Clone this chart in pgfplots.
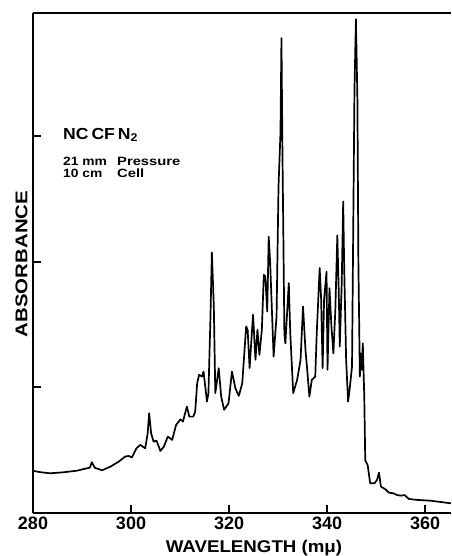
\documentclass[border=0pt]{standalone}
\usepackage{fontspec}
\setmainfont{Liberation Sans}
\usepackage{graphicx}
\usepackage{pgfplots}
\pgfplotsset{compat=1.18}

% absorbance trace
\pgfplotstableread{
x y
280.1 0.335
281.5 0.325
283.5 0.316
286.2 0.324
289.0 0.337
290.7 0.353
291.6 0.361
292.0 0.404
292.6 0.360
294.1 0.340
295.8 0.369
297.5 0.409
298.8 0.449
299.5 0.454
300.2 0.443
301.1 0.515
301.9 0.542
302.9 0.515
303.4 0.635
303.7 0.794
304.1 0.635
304.6 0.568
305.2 0.576
306.0 0.494
306.7 0.528
307.5 0.608
308.4 0.582
309.2 0.701
310.1 0.746
310.6 0.728
311.4 0.847
311.9 0.767
312.7 0.767
313.1 0.807
313.5 1.033
313.9 1.100
314.5 1.086
314.8 1.126
315.5 0.887
315.8 0.954
316.2 1.538
316.5 2.074
316.9 1.644
317.2 0.954
317.9 1.153
318.4 0.927
319.0 0.821
319.9 0.874
320.6 1.126
321.3 0.993
322.0 0.932
322.7 1.033
323.5 1.485
323.8 1.458
324.2 1.153
324.9 1.578
325.4 1.219
325.8 1.458
326.2 1.259
326.7 1.458
327.1 1.896
327.4 1.883
327.8 1.604
328.1 2.20
328.4 1.99
329.1 1.245
329.7 1.564
330.1 2.60
330.5 3.025
330.7 3.78
330.9 2.89
331.3 1.43
331.5 1.35
332.2 1.83
332.5 1.43
333.1 0.954
333.9 1.06
334.6 1.22
335.1 1.644
335.6 1.30
335.9 1.166
336.4 0.927
336.9 1.06
337.6 1.086
337.9 1.43
338.5 1.95
338.8 1.70
339.1 1.153
339.4 1.70
339.9 1.92
340.1 1.14
340.5 1.79
340.9 1.485
341.3 1.27
341.7 1.62
342.1 2.21
342.4 1.75
342.6 1.325
343.0 1.83
343.3 2.48
343.5 1.96
343.9 1.22
344.3 0.887
344.6 0.98
345.1 1.166
345.4 2.49
345.6 3.37
345.9 3.93
346.2 3.29
346.4 1.99
346.7 1.086
346.9 1.27
347.1 1.14
347.3 1.35
347.6 0.927
347.8 0.42
348.3 0.38
348.8 0.237
349.7 0.237
350.2 0.263
350.6 0.321
351.0 0.21
351.9 0.189
352.6 0.162
353.5 0.157
354.3 0.143
355.1 0.138
355.8 0.143
356.7 0.112
358.4 0.104
361.1 0.098
365.3 0.077
}\spectrum

\begin{document}
\begin{tikzpicture}
\path[use as bounding box] (0,0) rectangle (451pt,556pt);
\begin{axis}[
  at={(33pt,43pt)}, anchor=south west,
  scale only axis, width=418pt, height=500pt,
  xmin=280, xmax=365.3, ymin=0, ymax=3.98,
  axis x line*=box, axis y line*=left,
  axis line style={line width=2.4pt,-},
  xtick={280,300,...,360}, ytick={1,2,3}, yticklabels={},
  xtick pos=bottom, ytick pos=left, tick align=inside,
  major tick length=7.5pt,
  major tick style={line width=1.8pt,black},
  /pgf/number format/assume math mode=true,
  ticklabel style={font=\bfseries\fontsize{18}{18}\selectfont},
]
\addplot[black, line width=1.7pt, line join=round, no marks] table {\spectrum};
\end{axis}

% legend-like notes, placed in picture points (1pt = 1px of the reference)
\begin{scope}[every node/.style={anchor=west, inner sep=0pt}]
\node[font=\bfseries\fontsize{16}{16}\selectfont] at (63pt,421pt)
  {\scalebox{1.1}[1]{NC\,CF\,N\textsubscript{2}}};
\node[font=\bfseries\fontsize{12}{12}\selectfont] at (63pt,395pt) {\scalebox{1.15}[1]{21 mm}};
\node[font=\bfseries\fontsize{12}{12}\selectfont] at (117pt,395pt) {\scalebox{1.23}[1]{Pressure}};
\node[font=\bfseries\fontsize{12}{12}\selectfont] at (63pt,383pt) {\scalebox{1.15}[1]{10 cm}};
\node[font=\bfseries\fontsize{12}{12}\selectfont] at (117pt,383pt) {\scalebox{1.23}[1]{Cell}};
\end{scope}

\node[anchor=base, inner sep=0pt, font=\bfseries\fontsize{17}{17}\selectfont]
  at (254pt,3.5pt) {\scalebox{1.1}[1]{WAVELENGTH (mμ)}};
\node[rotate=90, inner sep=0pt, font=\bfseries\fontsize{17}{17}\selectfont]
  at (21.5pt,292pt) {\scalebox{1.2}[1]{ABSORBANCE}};
\end{tikzpicture}
\end{document}
